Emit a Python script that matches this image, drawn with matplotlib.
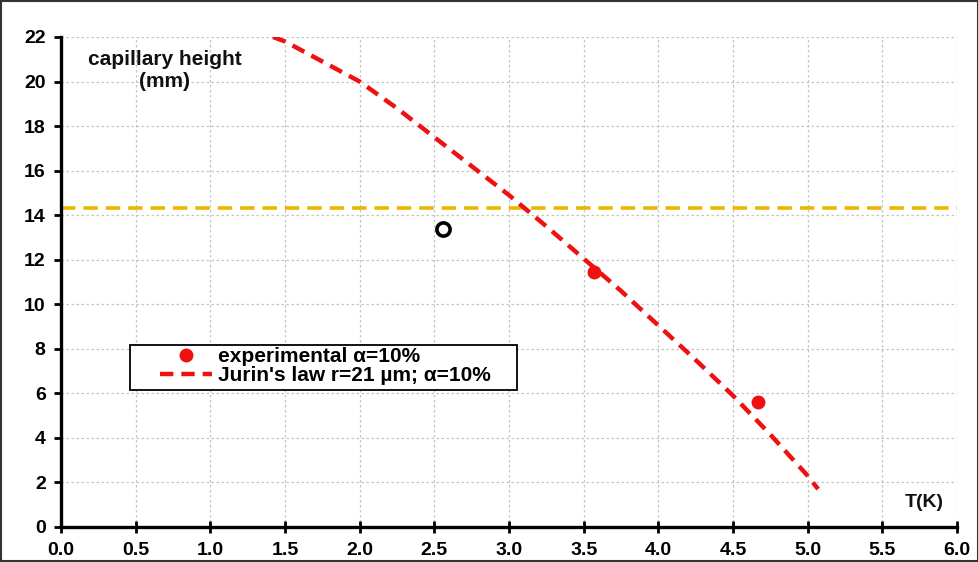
import matplotlib.pyplot as plt
from matplotlib.patches import Rectangle

plt.rcParams['font.family'] = ['Liberation Sans', 'DejaVu Sans']
plt.rcParams['font.weight'] = 'bold'

# Jurin's law curve
T_curve = [1.42, 1.5, 1.75, 2.0, 2.25, 2.5, 2.75, 3.0, 3.25, 3.5,
           3.75, 4.0, 4.25, 4.5, 4.75, 5.0, 5.07]
h_curve = [22.0, 21.8, 20.9, 20.0, 18.8, 17.5, 16.2, 14.9, 13.5, 12.05,
           10.6, 9.05, 7.5, 5.9, 4.15, 2.3, 1.7]

# experimental points
T_exp = [3.57, 4.67]
h_exp = [11.45, 5.6]

# open point
T_open = [2.56]
h_open = [13.4]

h_line = 14.3

x_ticks = [0.0, 0.5, 1.0, 1.5, 2.0, 2.5, 3.0, 3.5, 4.0, 4.5, 5.0, 5.5, 6.0]
y_ticks = [0, 2, 4, 6, 8, 10, 12, 14, 16, 18, 20, 22]

fig = plt.figure(figsize=(9.79, 5.62), dpi=100)
ax = fig.add_axes([0.0623, 0.0623, 0.9152, 0.8719])

ax.axhline(h_line, color='#e8b800', lw=2.6, ls=(0, (4, 2.2)), zorder=2)
ax.plot(T_curve, h_curve, color='#ee1111', lw=3.2, ls=(0, (3, 1.8)),
        label="Jurin's law r=21 µm; α=10%", zorder=3)
ax.plot(T_exp, h_exp, 'o', color='#ee1111', ms=9, ls='none',
        label='experimental α=10%', zorder=4)
ax.plot(T_open, h_open, 'o', mfc='white', mec='black', mew=2.6, ms=9.5, zorder=4)

ax.set_xlim(0, 6)
ax.set_ylim(0, 22)
ax.set_xticks(x_ticks)
ax.set_xticklabels([f'{v:.1f}' for v in x_ticks])
ax.set_yticks(y_ticks)
ax.tick_params(axis='x', direction='inout', length=9, width=2, labelsize=14, pad=6)
ax.tick_params(axis='y', direction='out', length=5, width=2, labelsize=14, pad=6)
for lab in ax.get_xticklabels() + ax.get_yticklabels():
    lab.set_fontweight('bold')

ax.grid(True, color='#c4c4c4', ls=(0, (2, 2)), lw=0.9)
ax.set_axisbelow(True)
for s in ['top', 'right']:
    ax.spines[s].set_visible(False)
for s in ['left', 'bottom']:
    ax.spines[s].set_linewidth(2.4)

ax.text(0.116, 0.932, 'capillary height\n(mm)', transform=ax.transAxes,
        ha='center', va='center', fontsize=15, fontweight='bold',
        linespacing=1.2, color='#111111')
ax.text(0.963, 0.049, 'T(K)', transform=ax.transAxes, ha='center',
        va='center', fontsize=14, fontweight='bold', color='#111111')

# legend frame drawn separately (it is wider than the entries)
ax.add_patch(Rectangle((0.077, 0.280), 0.432, 0.091, transform=ax.transAxes,
                       fill=True, facecolor='white', edgecolor='black',
                       lw=1.3, zorder=5))
handles, labels = ax.get_legend_handles_labels()
leg = ax.legend(handles[::-1], labels[::-1], loc='upper left',
                bbox_to_anchor=(0.108, 0.371), frameon=False, fontsize=15,
                handlelength=2.5, borderpad=0.1, labelspacing=0.0,
                handletextpad=0.3, borderaxespad=0)
leg.set_zorder(6)
for t in leg.get_texts():
    t.set_fontweight('bold')

fig.patches.append(Rectangle((0.001, 0.001), 0.998, 0.998, transform=fig.transFigure,
                             fill=False, edgecolor='#333333', lw=1.5))

fig.savefig('out.png', dpi=100)
